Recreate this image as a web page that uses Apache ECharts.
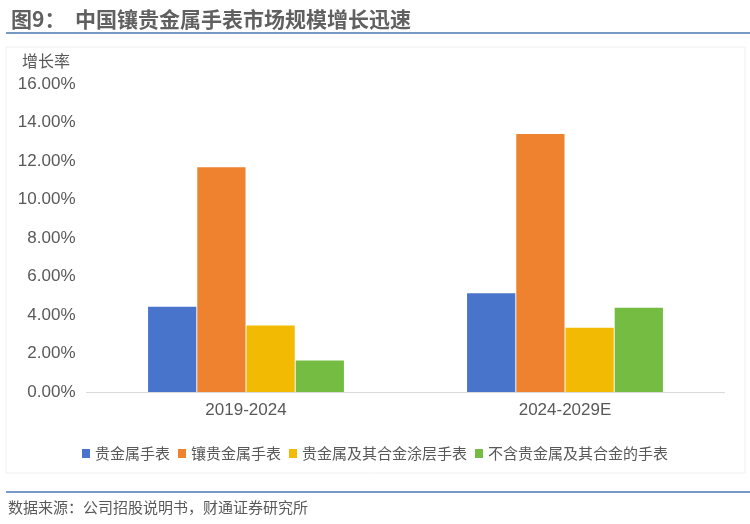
<!DOCTYPE html>
<html><head><meta charset="utf-8">
<script src="https://cdn.jsdelivr.net/npm/echarts@6/dist/echarts.min.js"></script>
<style>html,body{margin:0;padding:0;background:#fff}#c{width:750px;height:524px}</style>
</head><body><div id="c"></div>
<script>
const categories = ['2019-2024', '2024-2029E'];
const seriesNames = ['贵金属手表', '镶贵金属手表', '贵金属及其合金涂层手表', '不含贵金属及其合金的手表'];
const s1 = [4.43, 5.13];
const s2 = [11.67, 13.40];
const s3 = [3.45, 3.34];
const s4 = [1.63, 4.38];
const yTicks = {min: 0, max: 16, interval: 2};
const colors = ['#4874CB', '#EE822F', '#F2BA02', '#75BD42'];
const font = '"Noto Sans CJK SC", "Noto Sans", sans-serif';
const numFont = '"Liberation Sans", Arial, sans-serif';

const chart = echarts.init(document.getElementById('c'));
const allData = [s1, s2, s3, s4];
chart.setOption({
  animation: false,
  color: colors,
  title: {
    text: '图9：  中国镶贵金属手表市场规模增长迅速',
    left: 6, top: 4,
    textStyle: {fontFamily: font, fontSize: 21, fontWeight: 'bold', color: '#606060'}
  },
  graphic: [
    {type: 'rect', shape: {x: 6, y: 47, width: 739, height: 426}, style: {fill: 'none', stroke: '#f0f0f0', lineWidth: 1}, silent: true},
    {type: 'line', shape: {x1: 6, y1: 33, x2: 750, y2: 33}, style: {stroke: '#4a78b0', lineWidth: 1.5}},
    {type: 'line', shape: {x1: 6, y1: 492, x2: 750, y2: 492}, style: {stroke: '#4a78b0', lineWidth: 1.5}},
    {type: 'text', left: 8, top: 500, style: {text: '数据来源：公司招股说明书，财通证券研究所', font: '15px ' + font, fill: '#595959'}},
    {type: 'text', left: 22, top: 53, style: {text: '增长率', font: '16px ' + font, fill: '#595959'}}
  ],
  legend: {
    data: seriesNames,
    left: 'center', top: 441,
    itemWidth: 8, itemHeight: 9, itemGap: 8,
    icon: 'rect',
    textStyle: {fontFamily: font, fontSize: 15, color: '#595959'}
  },
  grid: {left: 86.5, right: 25.5, top: 84, bottom: 132},
  xAxis: {
    type: 'category', data: categories,
    axisLine: {lineStyle: {color: '#d9d9d9', width: 1}},
    axisTick: {show: false},
    axisLabel: {fontFamily: numFont, fontSize: 17, color: '#595959', margin: 10}
  },
  yAxis: {
    type: 'value', min: yTicks.min, max: yTicks.max, interval: yTicks.interval,
    splitLine: {show: false},
    axisLine: {show: false}, axisTick: {show: false},
    axisLabel: {fontFamily: numFont, fontSize: 17, color: '#595959', margin: 11,
      formatter: v => v.toFixed(2) + '%'}
  },
  series: seriesNames.map((n, i) => ({
    name: n, type: 'bar', data: allData[i],
    barGap: '2%', barCategoryGap: '38.6%'
  }))
});
</script></body></html>
